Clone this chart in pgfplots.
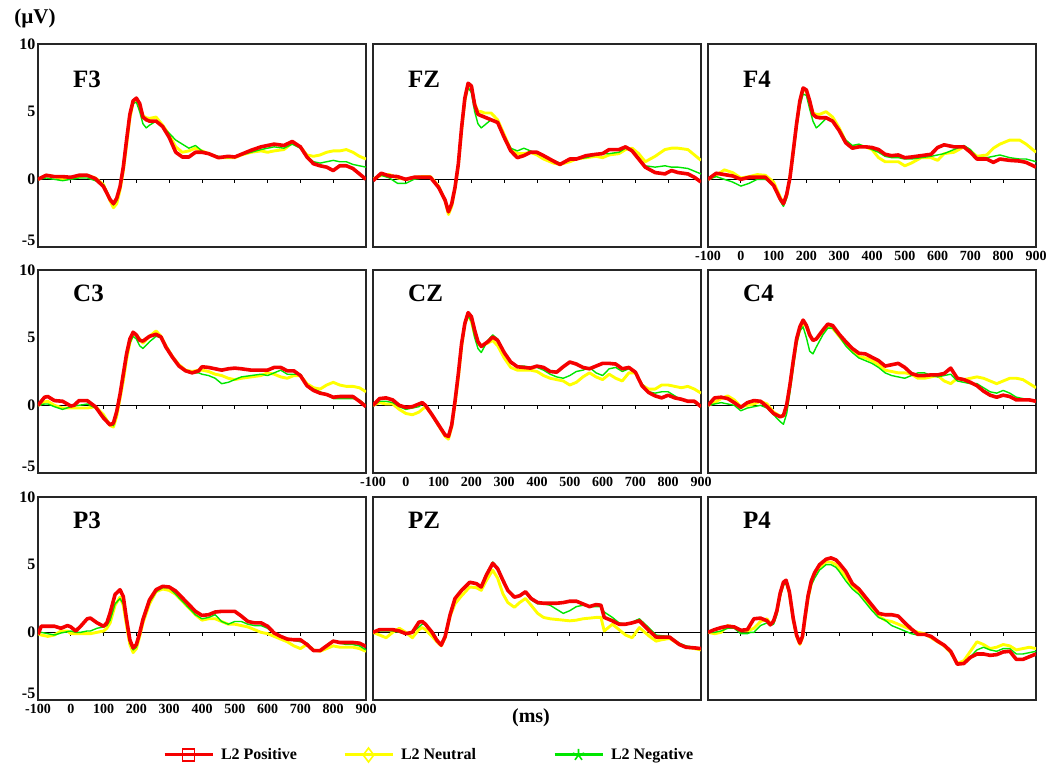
\documentclass[border=0pt]{standalone}
\usepackage{fontspec}
\setmainfont{Liberation Serif}
\usepackage{pgfplots}
\usepackage{pgfplotstable}
\pgfplotsset{compat=1.18}
\definecolor{posred}{RGB}{245,0,0}
\definecolor{neuyel}{RGB}{255,255,0}
\definecolor{neggrn}{RGB}{0,230,0}

\pgfplotstableread{
t P N G
-100 0 0 0
-75 0.3 0.3 0.1
-50 0.2 0.2 0
-25 0.2 0.0 -0.1
0 0.15 0.1 0
25 0.3 0.2 0.1
50 0.3 0.3 0.1
75 0.05 0.1 -0.1
100 -0.55 -0.4 -0.4
120 -1.5 -1.6 -1.4
130 -1.8 -2.1 -1.9
140 -1.4 -1.8 -1.6
150 -0.55 -0.8 -0.7
160 0.9 0.6 0.7
170 2.9 2.5 2.6
180 4.8 4.5 4.6
190 5.8 5.7 5.6
200 6.0 5.8 5.7
210 5.6 5.4 5.0
220 4.6 4.7 4.1
230 4.4 4.55 3.8
240 4.3 4.5 4.0
260 4.3 4.6 4.3
280 3.9 4.0 3.9
300 3.1 3.3 3.4
320 2.0 2.4 2.9
340 1.65 2.0 2.6
360 1.65 2.1 2.3
380 2.0 2.3 2.5
400 2.0 2.1 2.1
420 1.9 1.9 1.9
450 1.6 1.6 1.7
480 1.7 1.6 1.6
500 1.65 1.6 1.7
520 1.85 1.8 1.8
550 2.15 2.0 2.0
580 2.4 2.1 2.2
600 2.5 2.0 2.3
620 2.6 2.1 2.4
650 2.5 2.2 2.3
675 2.8 2.7 2.6
700 2.4 2.4 2.3
720 1.65 1.8 1.7
740 1.15 1.7 1.3
760 1.0 1.8 1.2
780 0.9 2.0 1.3
800 0.65 2.1 1.4
820 1.0 2.1 1.3
840 1.0 2.2 1.3
860 0.8 2.0 1.1
880 0.4 1.7 1.0
900 0 1.5 0.9
}\tFthree

\pgfplotstableread{
t P N G
-100 -0.1 0 0
-75 0.45 0.3 0.3
-50 0.25 0.35 0.1
-25 0.2 0.1 -0.3
0 0 0.0 -0.3
25 0.15 0.15 0.0
50 0.15 0.2 0.1
75 0.15 0.2 0.1
100 -0.6 -0.5 -0.5
120 -1.55 -1.6 -1.5
130 -2.4 -2.6 -2.4
140 -1.8 -2.0 -1.9
150 -0.6 -0.7 -0.7
160 1.1 1.0 1.0
170 3.8 3.6 3.6
180 6.0 5.8 5.7
190 7.1 7.0 6.8
200 6.9 6.8 6.4
210 5.5 5.6 5.0
220 4.8 5.0 4.1
230 4.7 5.0 3.8
240 4.6 4.9 4.0
260 4.4 4.9 4.4
280 4.2 4.4 4.2
300 3.1 3.3 3.2
320 2.1 2.2 2.3
340 1.6 1.9 2.1
360 1.75 1.9 2.3
380 2.0 2.0 2.1
400 2.0 1.8 1.9
420 1.75 1.5 1.7
450 1.35 1.2 1.4
470 1.1 1.1 1.2
500 1.5 1.3 1.4
520 1.5 1.5 1.5
550 1.75 1.6 1.6
580 1.85 1.7 1.8
600 1.9 1.6 1.9
620 2.2 1.8 1.9
650 2.2 1.9 2.0
670 2.4 2.2 2.3
690 2.1 2.3 2.2
710 1.5 1.9 1.6
730 0.9 1.3 1.0
760 0.5 1.7 0.9
790 0.4 2.2 1.0
810 0.65 2.3 0.9
830 0.5 2.3 0.9
860 0.4 2.2 0.8
880 0.15 1.8 0.6
900 -0.2 1.4 0.4
}\tFZ

\pgfplotstableread{
t P N G
-100 0 0 0
-75 0.45 0.3 0.2
-50 0.35 0.7 0.0
-25 0.25 0.5 -0.2
0 0.0 0.1 -0.5
25 0.15 0.2 -0.3
50 0.15 0.35 0.0
75 0.15 0.3 0.0
100 -0.45 -0.2 -0.4
120 -1.45 -1.3 -1.6
130 -1.8 -1.8 -2.0
140 -1.1 -1.2 -1.4
150 0.15 0.2 0.0
160 2.1 2.0 1.9
170 4.1 4.0 3.8
180 5.8 5.7 5.4
190 6.75 6.6 6.3
200 6.6 6.5 6.2
210 5.8 5.7 5.2
220 4.8 4.9 4.3
230 4.6 4.8 3.8
240 4.55 4.8 4.0
260 4.55 5.0 4.5
280 4.3 4.6 4.3
300 3.6 3.8 3.7
320 2.7 2.8 2.9
340 2.3 2.4 2.5
360 2.4 2.5 2.6
380 2.4 2.4 2.4
400 2.35 2.2 2.2
420 2.2 1.6 2.0
440 1.85 1.3 1.7
460 1.75 1.3 1.6
480 1.8 1.3 1.6
500 1.6 1.0 1.5
520 1.65 1.2 1.5
550 1.75 1.6 1.6
580 1.85 1.6 1.7
600 2.35 1.4 1.8
620 2.55 1.9 1.9
650 2.4 2.0 2.2
680 2.4 2.4 2.5
700 2.0 2.1 2.2
720 1.5 1.7 1.6
750 1.5 1.8 1.6
770 1.25 2.3 1.7
790 1.5 2.6 1.8
820 1.4 2.9 1.6
850 1.35 2.9 1.5
870 1.25 2.6 1.5
900 0.9 2.0 1.3
}\tFfour

\pgfplotstableread{
t P N G
-100 0 0 0
-80 0.6 0.25 0.1
-70 0.65 0.3 0.1
-50 0.35 0 -0.1
-25 0.3 -0.2 -0.3
0 -0.05 -0.2 -0.1
10 0 -0.2 -0.05
25 0.35 -0.2 0
50 0.35 -0.2 0.1
75 -0.1 -0.1 -0.2
100 -0.95 -0.7 -0.8
120 -1.45 -1.5 -1.4
130 -1.3 -1.6 -1.5
140 -0.45 -0.8 -0.7
150 0.8 0.5 0.6
160 2.3 1.8 2.0
170 3.8 3.4 3.5
180 4.9 4.6 4.6
190 5.4 5.3 5.1
200 5.2 5.2 4.9
210 4.8 4.9 4.4
220 4.75 4.6 4.2
240 5.1 5.1 4.7
260 5.25 5.5 5.1
275 5.05 5.1 5.0
290 4.3 4.4 4.3
310 3.55 3.6 3.5
330 2.9 3.0 2.9
350 2.55 2.6 2.5
370 2.4 2.5 2.4
390 2.55 2.6 2.4
400 2.85 2.6 2.3
420 2.8 2.5 2.2
440 2.7 2.3 2.0
460 2.6 2.2 1.6
480 2.7 2.0 1.7
500 2.75 1.9 1.9
520 2.7 2.0 2.1
550 2.6 2.1 2.2
580 2.6 2.2 2.3
600 2.6 2.4 2.2
620 2.8 2.3 2.4
640 2.8 2.1 2.6
660 2.55 2.0 2.3
680 2.55 2.2 2.3
700 2.2 2.2 2.3
720 1.45 1.6 1.5
740 1.1 1.3 1.2
760 0.9 1.2 1.0
780 0.8 1.5 0.8
800 0.6 1.7 0.5
820 0.65 1.5 0.5
840 0.65 1.4 0.5
860 0.65 1.4 0.5
880 0.3 1.3 0.4
900 -0.1 1.0 0.0
}\tCthree

\pgfplotstableread{
t P N G
-100 0 0 0
-80 0.5 0.2 0.3
-60 0.55 0.1 0.3
-40 0.4 0.1 0.2
-20 0 -0.3 -0.1
0 -0.15 -0.6 -0.3
20 -0.1 -0.7 -0.2
40 0.1 -0.5 -0.1
50 0.2 -0.3 0.1
60 0 -0.1 0.0
80 -0.7 -0.7 -0.7
100 -1.45 -1.5 -1.4
120 -2.2 -2.3 -2.1
130 -2.3 -2.5 -2.3
140 -1.45 -1.6 -1.5
150 0.3 0.1 0.2
160 2.3 2.0 2.2
170 4.55 4.3 4.4
180 6.05 6.0 5.9
190 6.85 6.7 6.6
200 6.55 6.2 6.2
210 5.55 5.2 5.0
220 4.7 4.6 4.2
230 4.35 4.4 3.9
250 4.7 4.6 4.8
265 5.05 4.8 5.2
280 4.8 4.4 4.9
300 3.9 3.5 3.9
320 3.2 2.8 3.1
340 2.85 2.6 2.9
360 2.8 2.6 2.9
380 2.75 2.6 2.8
400 2.9 2.5 2.8
420 2.8 2.2 2.6
440 2.5 2.0 2.3
460 2.45 1.9 2.1
480 2.85 1.8 2.0
500 3.2 1.5 2.2
520 3.05 1.7 2.5
540 2.8 2.1 2.6
560 2.7 2.4 2.8
580 2.9 2.1 2.4
600 3.1 1.9 2.2
620 3.1 2.3 2.7
640 3.05 2.0 2.8
660 2.7 1.8 2.5
680 2.8 2.4 2.7
700 2.45 2.4 2.4
720 1.45 1.5 1.6
740 0.95 1.2 1.0
760 0.7 1.2 0.9
780 0.55 1.5 1.0
800 0.75 1.5 1.0
820 0.55 1.4 0.7
840 0.45 1.3 0.4
860 0.3 1.4 0.3
880 0.3 1.2 0.2
900 -0.1 0.9 -0.1
}\tCZ

\pgfplotstableread{
t P N G
-100 0 0 0
-80 0.55 0.2 0.1
-60 0.6 0.5 0.2
-40 0.5 0.7 0.1
-20 0.2 0.4 0.0
0 -0.15 -0.1 -0.4
20 0.2 0.0 -0.2
40 0.35 0.1 -0.1
60 0.3 0.3 0.0
80 -0.1 0.1 -0.2
100 -0.6 -0.5 -0.7
120 -0.85 -0.8 -1.2
130 -0.75 -0.8 -1.4
140 0.05 -0.1 -0.6
150 1.55 1.4 1.0
160 3.3 3.1 2.8
170 4.9 4.7 4.5
180 5.8 5.6 5.5
190 6.3 6.1 5.8
200 5.9 5.8 5.0
210 5.2 5.2 4.0
220 4.8 4.8 3.8
230 4.9 4.9 4.3
250 5.55 5.4 5.2
265 6.0 5.8 5.7
280 5.9 5.7 5.7
300 5.25 5.1 5.1
320 4.7 4.5 4.4
340 4.2 4.0 3.9
360 3.85 3.6 3.5
380 3.8 3.5 3.3
400 3.55 3.3 3.1
420 3.3 3.0 2.8
440 2.9 2.6 2.4
460 3.0 2.5 2.2
480 3.1 2.4 2.1
500 2.8 2.4 2.0
520 2.35 2.3 2.2
540 2.2 2.0 2.4
560 2.2 2.0 2.4
580 2.25 2.1 2.2
600 2.25 2.2 2.1
620 2.35 1.8 2.2
640 2.75 1.6 2.3
660 2.0 2.0 1.8
680 1.9 1.9 1.7
700 1.7 2.0 1.6
720 1.45 2.1 1.6
740 1.05 2.0 1.3
760 0.75 1.8 1.0
780 0.6 1.6 0.9
800 0.75 1.8 1.1
820 0.65 2.0 0.9
840 0.4 2.0 0.6
860 0.4 1.9 0.5
880 0.4 1.6 0.4
900 0.3 1.3 0.3
}\tCfour

\pgfplotstableread{
t P N G
-100 -0.15 -0.1 0
-90 0.45 -0.2 0
-70 0.45 -0.3 -0.1
-50 0.45 -0.2 -0.2
-30 0.3 0.1 -0.05
-10 0.5 0.1 0.05
0 0.4 -0.1 0.1
15 0.1 -0.1 0
30 0.45 -0.1 0
50 1.0 -0.1 0.1
60 1.05 -0.1 0.1
80 0.7 0 0.3
100 0.45 0.1 0.4
110 0.7 0.3 0.5
120 1.45 0.7 0.9
135 2.8 2.0 2.1
150 3.15 2.6 2.5
160 2.65 2.0 2.1
170 0.95 0.5 0.6
180 -0.55 -0.9 -0.8
190 -1.15 -1.5 -1.3
200 -0.9 -1.2 -1.1
210 -0.05 -0.3 -0.2
220 0.95 0.7 0.8
240 2.4 2.1 2.2
260 3.15 3.0 3.0
280 3.4 3.2 3.3
300 3.35 3.1 3.3
320 3.05 2.8 2.8
340 2.55 2.3 2.3
360 2.05 1.8 1.8
380 1.55 1.3 1.3
400 1.25 0.9 1.0
420 1.3 1.0 1.1
440 1.5 1.0 1.3
460 1.55 0.8 0.8
480 1.55 0.6 0.6
500 1.55 0.6 0.8
520 1.2 0.5 0.8
540 0.8 0.4 0.6
560 0.7 0.2 0.5
580 0.7 0.0 0.5
600 0.45 -0.1 0.3
620 -0.05 -0.3 -0.1
640 -0.3 -0.5 -0.3
660 -0.5 -0.7 -0.5
680 -0.55 -1.0 -0.6
700 -0.55 -1.2 -0.7
720 -0.9 -0.9 -0.8
740 -1.35 -1.3 -1.3
760 -1.35 -1.4 -1.3
780 -1.0 -1.2 -1.0
800 -0.65 -1.0 -0.6
820 -0.75 -1.1 -0.8
840 -0.75 -1.1 -0.9
860 -0.75 -1.1 -0.9
880 -0.8 -1.2 -1.0
900 -1.05 -1.4 -1.3
}\tPthree

\pgfplotstableread{
t P N G
-100 0 0 0
-80 0.2 -0.2 0.1
-60 0.2 -0.4 0.1
-40 0.2 0.0 0.1
-20 0.1 0.3 0.0
0 -0.1 0.0 -0.1
20 0.0 -0.4 0.0
40 0.75 0.2 0.4
50 0.8 0.35 0.6
60 0.6 0.2 0.6
80 0.0 -0.3 0.1
95 -0.6 -0.7 -0.5
108 -0.95 -1.0 -0.9
120 -0.3 -0.4 -0.3
135 1.3 1.2 1.3
150 2.5 2.1 2.4
170 3.1 2.7 3.1
195 3.7 3.35 3.7
215 3.6 3.3 3.6
230 3.35 3.1 3.4
245 4.2 3.8 4.3
265 5.1 4.6 5.2
280 4.7 4.0 4.8
296 3.85 2.85 3.8
311 3.1 2.2 3.1
331 2.6 1.85 2.7
347 2.7 2.2 2.7
365 3.0 2.5 2.9
382 2.5 2.0 2.4
402 2.2 1.4 2.1
420 2.15 1.1 2.1
440 2.15 1.0 2.0
460 2.15 0.95 1.7
480 2.2 0.9 1.4
500 2.3 0.85 1.6
520 2.3 0.9 1.9
540 2.1 1.0 2.0
560 1.9 1.05 1.9
580 2.05 1.1 1.9
595 2.0 1.1 1.9
605 1.1 0.1 1.5
630 0.85 0.6 1.1
650 0.6 0.2 0.7
670 0.6 -0.2 0.6
690 0.7 -0.4 0.75
712 0.85 0.35 1.0
743 0.1 -0.3 0.3
763 -0.35 -0.65 -0.2
780 -0.35 -0.55 -0.25
804 -0.35 -0.45 -0.3
834 -0.9 -0.9 -0.8
854 -1.1 -1.1 -1.0
880 -1.15 -1.2 -1.1
900 -1.2 -1.3 -1.2
}\tPZ

\pgfplotstableread{
t P N G
-100 0 0 0
-80 0.2 -0.1 0.0
-60 0.35 0.0 0.1
-40 0.45 0.5 0.3
-20 0.4 0.4 0.3
0 0.15 0.1 -0.1
20 0.2 0.1 -0.1
30 0.6 0.2 0.0
40 1.0 0.3 0.0
60 1.05 0.8 0.5
80 0.85 1.0 0.7
90 0.55 0.6 0.5
100 0.85 0.8 0.6
110 1.6 1.5 1.3
120 2.9 2.8 2.6
130 3.7 3.6 3.5
138 3.85 3.75 3.6
148 3.0 2.9 2.8
160 1.0 0.9 0.8
170 -0.2 -0.3 -0.3
180 -0.8 -0.9 -0.8
188 -0.3 -0.4 -0.4
195 1.0 0.8 0.7
205 2.7 2.5 2.4
215 3.8 3.6 3.5
225 4.4 4.2 4.0
240 5.0 4.8 4.6
260 5.4 5.2 5.0
275 5.5 5.2 5.0
290 5.35 5.0 4.8
300 5.1 4.7 4.5
320 4.5 4.1 3.8
340 3.6 3.4 3.2
360 3.2 3.0 2.8
380 2.6 2.4 2.2
400 2.0 1.8 1.6
420 1.4 1.2 1.1
440 1.3 0.9 0.9
460 1.3 0.8 0.5
480 1.2 0.6 0.3
500 0.7 0.4 0.1
520 0.25 0.2 -0.1
540 -0.15 0.0 -0.2
560 -0.15 -0.1 -0.2
580 -0.3 -0.4 -0.3
600 -0.65 -0.7 -0.6
620 -0.95 -1.0 -1.0
640 -1.4 -1.5 -1.5
660 -2.35 -2.3 -2.4
680 -2.3 -2.1 -2.3
700 -1.85 -1.4 -1.8
720 -1.6 -0.7 -1.3
740 -1.6 -0.9 -1.1
760 -1.7 -1.2 -1.3
780 -1.65 -1.1 -1.4
800 -1.45 -0.9 -1.2
820 -1.4 -1.0 -1.2
840 -2.0 -1.3 -1.6
860 -2.0 -1.2 -1.6
880 -1.8 -1.1 -1.5
900 -1.6 -1.2 -1.4
}\tPfour

\pgfplotsset{
  erp/.style={
    width=328pt, height=203pt, scale only axis,
    xmin=-100, xmax=900, ymin=-5, ymax=10,
    xtick={-100,0,...,900}, ytick={-5,0,5,10},
    xticklabels={}, yticklabels={},
    major tick length=0pt,
    axis line style={line width=1.3pt, black!85},
    xticklabel style={font=\bfseries\fontsize{14}{15}\selectfont, inner sep=3.5pt},
    yticklabel style={font=\bfseries\fontsize{16}{17}\selectfont, inner sep=2.5pt},
    clip=true,
  },
  showx/.style={xticklabels={-100,0,100,200,300,400,500,600,700,800,900}},
  showy/.style={yticklabels={\smash{\raisebox{1pt}{-5}},0,5,10}},
  neu/.style={neuyel, line width=2.9pt, line join=round},
  neg/.style={neggrn, line width=1.4pt, line join=round},
  pos/.style={posred, line width=3.6pt, line join=round},
}

\newcommand\erppanel[6]{%
\begin{axis}[erp, at={(#1pt,#2pt)}, anchor=south west, #3]
  \draw[line width=0.9pt] (axis cs:-100,0) -- (axis cs:900,0);
  \pgfplotsinvokeforeach{0,100,...,800}{\draw[line width=0.9pt] (axis cs:##1,0) -- ++(0pt,-3.5pt);}
  \addplot[neu] table[x=t,y=N]{#4};
  \addplot[neg] table[x=t,y=G]{#4};
  \addplot[pos] table[x=t,y=P]{#4};
  \node[anchor=west, inner sep=0pt, font=\bfseries\fontsize{25}{26}\selectfont]
    at ([xshift=35pt,yshift=#6pt]rel axis cs:0,1) {#5};
\end{axis}}

\begin{document}
\begin{tikzpicture}
\path (0pt,0pt) rectangle (1050pt,774pt);

\erppanel{38}{527}{showy}{\tFthree}{F3}{-35}
\erppanel{373}{527}{}{\tFZ}{FZ}{-35}
\erppanel{708}{527}{showx}{\tFfour}{F4}{-35}

\erppanel{38}{301}{showy}{\tCthree}{C3}{-23}
\erppanel{373}{301}{showx}{\tCZ}{CZ}{-23}
\erppanel{708}{301}{}{\tCfour}{C4}{-23}

\erppanel{38}{74}{showy,showx}{\tPthree}{P3}{-23}
\erppanel{373}{74}{}{\tPZ}{PZ}{-23}
\erppanel{708}{74}{}{\tPfour}{P4}{-23}

\begin{axis}[hide axis, scale only axis, width=1050pt, height=774pt,
  at={(0pt,0pt)}, anchor=south west, xmin=0, xmax=1, ymin=0, ymax=1,
  legend columns=3,
  legend style={at={(0.15524,0.02455)}, anchor=west, draw=none, fill=none,
    inner sep=0pt, outer sep=0pt, column sep=0pt,
    font=\bfseries\fontsize{16}{17}\selectfont,
    nodes={inner sep=0pt},
    /tikz/every odd column/.style={column sep=7pt}},
  legend image code/.code={\draw[mark repeat=2,mark phase=2,#1] plot coordinates {(0pt,0pt) (24pt,0pt) (48pt,0pt)};}]
  \addplot[draw=none, forget plot] coordinates {(0.5,0.5)};
  \addlegendimage{posred, line width=3pt, mark=square, mark size=6pt, mark options={solid, line width=1.6pt}}
  \addlegendentry{\makebox[122pt][l]{L2 Positive}}
  \addlegendimage{neuyel, line width=3pt, mark=diamond, mark size=7pt, mark options={solid, line width=1.6pt, fill=white}}
  \addlegendentry{\makebox[152pt][l]{L2 Neutral}}
  \addlegendimage{neggrn, line width=3pt, mark=star, mark size=6pt, mark options={solid, line width=1.6pt}}
  \addlegendentry{L2 Negative}
\end{axis}

\node[font=\bfseries\fontsize{21}{23}\selectfont] at (35pt,756pt) {(µV)};
\node[font=\bfseries\fontsize{20}{22}\selectfont] at (531pt,56pt) {(ms)};
\end{tikzpicture}
\end{document}
